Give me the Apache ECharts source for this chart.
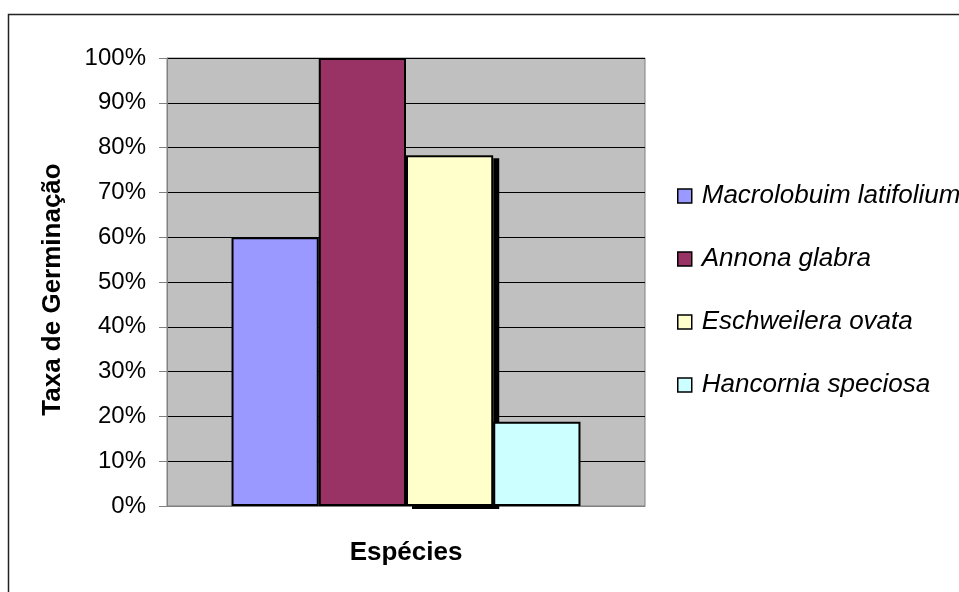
<!DOCTYPE html>
<html>
<head>
<meta charset="utf-8">
<script src="https://cdn.jsdelivr.net/npm/echarts@6/dist/echarts.min.js"></script>
<style>html,body{margin:0;padding:0;background:#fff;}#c{width:959px;height:592px;}</style>
</head>
<body>
<div id="c"></div>
<script>
const categories = ['Espécies'];
const speciesNames = ['Macrolobuim latifolium', 'Annona glabra', 'Eschweilera ovata', 'Hancornia speciosa'];
const germinationRates = [0.60, 1.00, 0.783, 0.188];
const barColors = ['#9999FF', '#993366', '#FFFFCC', '#CCFFFF'];
const shadowedIndex = 2;
const yTickValues = [0, 0.1, 0.2, 0.3, 0.4, 0.5, 0.6, 0.7, 0.8, 0.9, 1.0];

const FONT = 'Liberation Sans, Arial, sans-serif';
const chart = echarts.init(document.getElementById('c'), null, {renderer: 'canvas'});

const mainSeries = speciesNames.map((name, i) => ({
  name: name,
  type: 'bar',
  xAxisIndex: 0,
  barGap: '0%',
  barCategoryGap: '27%',
  data: [germinationRates[i]],
  itemStyle: {color: barColors[i], borderColor: '#000', borderWidth: 2},
  emphasis: {disabled: true},
  z: 3
}));

// drop-shadow layer (same layout on an overlaid hidden axis)
const shadowSeries = speciesNames.map((name, i) => ({
  name: '_shadow' + i,
  type: 'bar',
  xAxisIndex: 1,
  barGap: '0%',
  barCategoryGap: '27%',
  data: [i === shadowedIndex ? germinationRates[i] : null],
  itemStyle: {color: barColors[i], borderWidth: 0, shadowColor: '#000', shadowBlur: 0, shadowOffsetX: 6, shadowOffsetY: 3},
  emphasis: {disabled: true},
  silent: true,
  z: 2
}));

chart.setOption({
  animation: false,
  backgroundColor: '#fff',
  textStyle: {fontFamily: FONT},
  graphic: [{
    type: 'rect',
    shape: {x: 8.5, y: 14.5, width: 1000, height: 1000},
    style: {fill: 'none', stroke: '#222', lineWidth: 1.5},
    silent: true,
    z: -10
  }],
  grid: {
    left: 167, top: 58, right: 314, bottom: 86,
    show: true,
    backgroundColor: '#C0C0C0',
    borderColor: '#808080',
    borderWidth: 1
  },
  legend: {
    orient: 'vertical',
    left: 672,
    top: 178,
    itemWidth: 14,
    itemHeight: 14,
    itemGap: 37,
    icon: 'rect',
    data: speciesNames,
    itemStyle: {borderColor: '#000', borderWidth: 1.5},
    textStyle: {
      fontFamily: FONT,
      fontSize: 26,
      fontStyle: 'italic',
      color: '#000',
      lineHeight: 26,
      padding: [0, 0, 0, 5]
    },
    selectedMode: false
  },
  xAxis: [{
    type: 'category',
    data: categories,
    name: 'Espécies',
    nameLocation: 'middle',
    nameGap: 47,
    nameTextStyle: {fontFamily: FONT, fontSize: 26, fontWeight: 'bold', color: '#000', verticalAlign: 'middle'},
    axisLine: {show: true, lineStyle: {color: '#808080', width: 1}},
    axisTick: {show: false},
    axisLabel: {show: false},
    splitLine: {show: false}
  }, {
    type: 'category',
    data: categories,
    show: false
  }],
  yAxis: {
    type: 'value',
    min: 0,
    max: 1,
    interval: 0.1,
    name: 'Taxa de Germinação',
    nameLocation: 'middle',
    nameRotate: 90,
    nameGap: 114,
    nameTextStyle: {fontFamily: FONT, fontSize: 26, fontWeight: 'bold', color: '#000', verticalAlign: 'middle', padding: [0, 15, 0, 0]},
    axisLine: {show: true, lineStyle: {color: '#808080', width: 1}},
    axisTick: {show: true, inside: false, length: 8, lineStyle: {color: '#808080', width: 1}},
    axisLabel: {
      fontFamily: FONT,
      fontSize: 24,
      color: '#000',
      margin: 21,
      formatter: function (v) {
        const idx = yTickValues.findIndex(t => Math.abs(t - v) < 1e-9);
        return idx >= 0 ? Math.round(yTickValues[idx] * 100) + '%' : '';
      }
    },
    splitLine: {show: true, lineStyle: {color: '#000', width: 1}}
  },
  series: mainSeries.concat(shadowSeries)
});
</script>
</body>
</html>
